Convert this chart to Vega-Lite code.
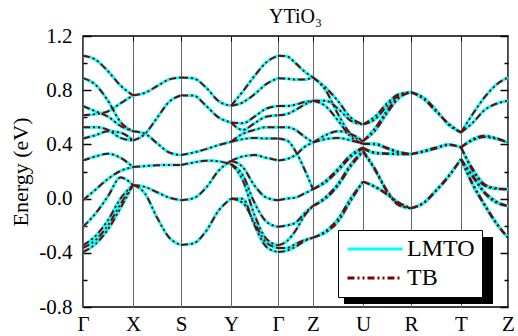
{
  "$schema": "https://vega.github.io/schema/vega-lite/v6.json",
  "width": 425,
  "height": 271,
  "autosize": {"type": "none"},
  "padding": {"left": 83, "top": 36, "right": 10, "bottom": 29},
  "title": {"text": "YTiO₃", "font": "Liberation Serif", "fontSize": 20, "fontWeight": "normal", "color": "black", "anchor": "middle", "offset": 10, "dy": 12},
  "config": {
    "font": "Liberation Serif",
    "view": {"stroke": "black", "strokeWidth": 1.5},
    "axis": {"labelFont": "Liberation Serif", "titleFont": "Liberation Serif", "labelColor": "black", "titleColor": "black", "labelOverlap": false, "labelFlush": false, "labelBound": false}
  },
  "data": {"values": [
    {"s":"g1","k":0,"e":1.055},{"s":"g1","k":12.5,"e":1.025},{"s":"g1","k":25,"e":0.94},{"s":"g1","k":37.5,"e":0.835},{"s":"g1","k":50,"e":0.762},
    {"s":"g2","k":0,"e":0.615},{"s":"g2","k":12.5,"e":0.624},{"s":"g2","k":25,"e":0.644},{"s":"g2","k":37.5,"e":0.703},{"s":"g2","k":50,"e":0.762},
    {"s":"g3","k":0,"e":0.889},{"s":"g3","k":12.5,"e":0.84},{"s":"g3","k":25,"e":0.722},{"s":"g3","k":37.5,"e":0.566},{"s":"g3","k":50,"e":0.497},
    {"s":"g4","k":0,"e":0.683},{"s":"g4","k":12.5,"e":0.644},{"s":"g4","k":25,"e":0.605},{"s":"g4","k":37.5,"e":0.536},{"s":"g4","k":50,"e":0.497},
    {"s":"g5","k":0,"e":0.527},{"s":"g5","k":12.5,"e":0.527},{"s":"g5","k":25,"e":0.507},{"s":"g5","k":37.5,"e":0.448},{"s":"g5","k":50,"e":0.429},
    {"s":"g6","k":0,"e":0.443},{"s":"g6","k":12.5,"e":0.468},{"s":"g6","k":25,"e":0.497},{"s":"g6","k":37.5,"e":0.487},{"s":"g6","k":50,"e":0.429},
    {"s":"g7","k":0,"e":0.282},{"s":"g7","k":12.5,"e":0.311},{"s":"g7","k":25,"e":0.331},{"s":"g7","k":37.5,"e":0.301},{"s":"g7","k":50,"e":0.233},
    {"s":"g8","k":0,"e":-0.012},{"s":"g8","k":12.5,"e":0.066},{"s":"g8","k":25,"e":0.145},{"s":"g8","k":37.5,"e":0.204},{"s":"g8","k":50,"e":0.233},
    {"s":"g9","k":0,"e":-0.208},{"s":"g9","k":12.5,"e":-0.11},{"s":"g9","k":25,"e":0.018},{"s":"g9","k":37.5,"e":0.155},{"s":"g9","k":50,"e":0.101},
    {"s":"g10","k":0,"e":-0.345},{"s":"g10","k":12.5,"e":-0.276},{"s":"g10","k":25,"e":-0.159},{"s":"g10","k":37.5,"e":0.0},{"s":"g10","k":50,"e":0.101},
    {"s":"g11","k":0,"e":-0.364},{"s":"g11","k":12.5,"e":-0.306},{"s":"g11","k":25,"e":-0.198},{"s":"g11","k":37.5,"e":-0.041},{"s":"g11","k":50,"e":0.101},
    {"s":"g12","k":0,"e":-0.394},{"s":"g12","k":12.5,"e":-0.335},{"s":"g12","k":25,"e":-0.227},{"s":"g12","k":37.5,"e":-0.07},{"s":"g12","k":50,"e":0.101},

    {"s":"a1","k":50,"e":0.762},{"s":"a1","k":62,"e":0.781},{"s":"a1","k":74,"e":0.83},{"s":"a1","k":86,"e":0.879},{"s":"a1","k":98,"e":0.894},
    {"s":"a2","k":50,"e":0.429},{"s":"a2","k":62,"e":0.478},{"s":"a2","k":74,"e":0.595},{"s":"a2","k":86,"e":0.713},{"s":"a2","k":98,"e":0.762},
    {"s":"a3","k":50,"e":0.497},{"s":"a3","k":62,"e":0.478},{"s":"a3","k":74,"e":0.409},{"s":"a3","k":86,"e":0.341},{"s":"a3","k":98,"e":0.321},
    {"s":"a4","k":50,"e":0.233},{"s":"a4","k":62,"e":0.24},{"s":"a4","k":74,"e":0.246},{"s":"a4","k":86,"e":0.248},{"s":"a4","k":98,"e":0.248},
    {"s":"a5","k":50,"e":0.101},{"s":"a5","k":62,"e":0.086},{"s":"a5","k":74,"e":0.047},{"s":"a5","k":86,"e":0.008},{"s":"a5","k":98,"e":-0.012},
    {"s":"a6","k":50,"e":0.101},{"s":"a6","k":62,"e":0.037},{"s":"a6","k":74,"e":-0.139},{"s":"a6","k":86,"e":-0.286},{"s":"a6","k":98,"e":-0.342},

    {"s":"b1","k":98,"e":0.894},{"s":"b1","k":110.5,"e":0.887},{"s":"b1","k":123,"e":0.82},{"s":"b1","k":135.5,"e":0.72},{"s":"b1","k":148,"e":0.685},
    {"s":"b2","k":98,"e":0.762},{"s":"b2","k":110.5,"e":0.76},{"s":"b2","k":123,"e":0.685},{"s":"b2","k":135.5,"e":0.6},{"s":"b2","k":148,"e":0.562},
    {"s":"b3","k":98,"e":0.321},{"s":"b3","k":110.5,"e":0.34},{"s":"b3","k":123,"e":0.365},{"s":"b3","k":135.5,"e":0.395},{"s":"b3","k":148,"e":0.419},
    {"s":"b4","k":98,"e":0.248},{"s":"b4","k":110.5,"e":0.266},{"s":"b4","k":123,"e":0.28},{"s":"b4","k":135.5,"e":0.275},{"s":"b4","k":148,"e":0.254},
    {"s":"b5","k":98,"e":-0.012},{"s":"b5","k":110.5,"e":0.003},{"s":"b5","k":123,"e":0.08},{"s":"b5","k":135.5,"e":0.205},{"s":"b5","k":148,"e":0.279},
    {"s":"b6","k":98,"e":-0.342},{"s":"b6","k":110.5,"e":-0.33},{"s":"b6","k":123,"e":-0.24},{"s":"b6","k":135.5,"e":-0.09},{"s":"b6","k":148,"e":0.0},

    {"s":"c1","k":148,"e":0.685},{"s":"c1","k":159.75,"e":0.79},{"s":"c1","k":171.5,"e":0.905},{"s":"c1","k":183.25,"e":1.005},{"s":"c1","k":195,"e":1.055},
    {"s":"c2","k":148,"e":0.685},{"s":"c2","k":159.75,"e":0.71},{"s":"c2","k":171.5,"e":0.77},{"s":"c2","k":183.25,"e":0.845},{"s":"c2","k":195,"e":0.889},
    {"s":"c3","k":148,"e":0.562},{"s":"c3","k":159.75,"e":0.556},{"s":"c3","k":171.5,"e":0.605},{"s":"c3","k":183.25,"e":0.664},{"s":"c3","k":195,"e":0.683},
    {"s":"c4","k":148,"e":0.562},{"s":"c4","k":159.75,"e":0.507},{"s":"c4","k":171.5,"e":0.556},{"s":"c4","k":183.25,"e":0.605},{"s":"c4","k":195,"e":0.615},
    {"s":"c5","k":148,"e":0.419},{"s":"c5","k":159.75,"e":0.478},{"s":"c5","k":171.5,"e":0.507},{"s":"c5","k":183.25,"e":0.527},{"s":"c5","k":195,"e":0.527},
    {"s":"c6","k":148,"e":0.419},{"s":"c6","k":159.75,"e":0.439},{"s":"c6","k":171.5,"e":0.448},{"s":"c6","k":183.25,"e":0.443},{"s":"c6","k":195,"e":0.443},
    {"s":"c7","k":148,"e":0.279},{"s":"c7","k":159.75,"e":0.311},{"s":"c7","k":171.5,"e":0.321},{"s":"c7","k":183.25,"e":0.301},{"s":"c7","k":195,"e":0.282},
    {"s":"c8","k":148,"e":0.279},{"s":"c8","k":159.75,"e":0.233},{"s":"c8","k":171.5,"e":0.096},{"s":"c8","k":183.25,"e":0.008},{"s":"c8","k":195,"e":-0.012},
    {"s":"c9","k":148,"e":0.254},{"s":"c9","k":159.75,"e":0.174},{"s":"c9","k":171.5,"e":-0.031},{"s":"c9","k":183.25,"e":-0.169},{"s":"c9","k":195,"e":-0.208},
    {"s":"c10","k":148,"e":0.254},{"s":"c10","k":159.75,"e":0.135},{"s":"c10","k":171.5,"e":-0.12},{"s":"c10","k":183.25,"e":-0.296},{"s":"c10","k":195,"e":-0.345},
    {"s":"c11","k":148,"e":0.0},{"s":"c11","k":159.75,"e":-0.031},{"s":"c11","k":171.5,"e":-0.178},{"s":"c11","k":183.25,"e":-0.325},{"s":"c11","k":195,"e":-0.364},
    {"s":"c12","k":148,"e":0.0},{"s":"c12","k":159.75,"e":-0.002},{"s":"c12","k":171.5,"e":-0.198},{"s":"c12","k":183.25,"e":-0.355},{"s":"c12","k":195,"e":-0.394},

    {"s":"d1","k":195,"e":1.055},{"s":"d1","k":203.75,"e":1.05},{"s":"d1","k":212.5,"e":1.0},{"s":"d1","k":221.25,"e":0.94},{"s":"d1","k":230,"e":0.894},
    {"s":"d2","k":195,"e":0.889},{"s":"d2","k":203.75,"e":0.885},{"s":"d2","k":212.5,"e":0.879},{"s":"d2","k":221.25,"e":0.879},{"s":"d2","k":230,"e":0.894},
    {"s":"d3","k":195,"e":0.683},{"s":"d3","k":203.75,"e":0.683},{"s":"d3","k":212.5,"e":0.693},{"s":"d3","k":221.25,"e":0.713},{"s":"d3","k":230,"e":0.722},
    {"s":"d4","k":195,"e":0.615},{"s":"d4","k":203.75,"e":0.624},{"s":"d4","k":212.5,"e":0.654},{"s":"d4","k":221.25,"e":0.693},{"s":"d4","k":230,"e":0.722},
    {"s":"d5","k":195,"e":0.527},{"s":"d5","k":203.75,"e":0.527},{"s":"d5","k":212.5,"e":0.507},{"s":"d5","k":221.25,"e":0.458},{"s":"d5","k":230,"e":0.414},
    {"s":"d6","k":195,"e":0.282},{"s":"d6","k":203.75,"e":0.292},{"s":"d6","k":212.5,"e":0.321},{"s":"d6","k":221.25,"e":0.38},{"s":"d6","k":230,"e":0.414},
    {"s":"d7","k":195,"e":0.443},{"s":"d7","k":203.75,"e":0.43},{"s":"d7","k":212.5,"e":0.35},{"s":"d7","k":221.25,"e":0.22},{"s":"d7","k":230,"e":0.069},
    {"s":"d8","k":195,"e":-0.012},{"s":"d8","k":203.75,"e":0.0},{"s":"d8","k":212.5,"e":0.008},{"s":"d8","k":221.25,"e":0.037},{"s":"d8","k":230,"e":0.069},
    {"s":"d9","k":195,"e":-0.208},{"s":"d9","k":203.75,"e":-0.198},{"s":"d9","k":212.5,"e":-0.178},{"s":"d9","k":221.25,"e":-0.11},{"s":"d9","k":230,"e":-0.054},
    {"s":"d10","k":195,"e":-0.345},{"s":"d10","k":203.75,"e":-0.315},{"s":"d10","k":212.5,"e":-0.237},{"s":"d10","k":221.25,"e":-0.129},{"s":"d10","k":230,"e":-0.054},
    {"s":"d11","k":195,"e":-0.364},{"s":"d11","k":203.75,"e":-0.364},{"s":"d11","k":212.5,"e":-0.335},{"s":"d11","k":221.25,"e":-0.306},{"s":"d11","k":230,"e":-0.288},
    {"s":"d12","k":195,"e":-0.394},{"s":"d12","k":203.75,"e":-0.384},{"s":"d12","k":212.5,"e":-0.355},{"s":"d12","k":221.25,"e":-0.315},{"s":"d12","k":230,"e":-0.288},

    {"s":"e1","k":230,"e":0.894},{"s":"e1","k":242.5,"e":0.82},{"s":"e1","k":255,"e":0.72},{"s":"e1","k":267.5,"e":0.6},{"s":"e1","k":280,"e":0.548},
    {"s":"e2","k":230,"e":0.894},{"s":"e2","k":242.5,"e":0.801},{"s":"e2","k":255,"e":0.624},{"s":"e2","k":267.5,"e":0.478},{"s":"e2","k":280,"e":0.425},
    {"s":"e3","k":230,"e":0.722},{"s":"e3","k":242.5,"e":0.722},{"s":"e3","k":255,"e":0.664},{"s":"e3","k":267.5,"e":0.576},{"s":"e3","k":280,"e":0.548},
    {"s":"e4","k":230,"e":0.722},{"s":"e4","k":242.5,"e":0.683},{"s":"e4","k":255,"e":0.576},{"s":"e4","k":267.5,"e":0.458},{"s":"e4","k":280,"e":0.405},
    {"s":"e5","k":230,"e":0.414},{"s":"e5","k":242.5,"e":0.468},{"s":"e5","k":255,"e":0.497},{"s":"e5","k":267.5,"e":0.478},{"s":"e5","k":280,"e":0.425},
    {"s":"e6","k":230,"e":0.414},{"s":"e6","k":242.5,"e":0.439},{"s":"e6","k":255,"e":0.448},{"s":"e6","k":267.5,"e":0.43},{"s":"e6","k":280,"e":0.405},
    {"s":"e7","k":230,"e":0.069},{"s":"e7","k":242.5,"e":0.13},{"s":"e7","k":255,"e":0.22},{"s":"e7","k":267.5,"e":0.32},{"s":"e7","k":280,"e":0.377},
    {"s":"e8","k":230,"e":0.069},{"s":"e8","k":242.5,"e":0.12},{"s":"e8","k":255,"e":0.205},{"s":"e8","k":267.5,"e":0.305},{"s":"e8","k":280,"e":0.37},
    {"s":"e9","k":230,"e":-0.054},{"s":"e9","k":242.5,"e":0.01},{"s":"e9","k":255,"e":0.11},{"s":"e9","k":267.5,"e":0.25},{"s":"e9","k":280,"e":0.355},
    {"s":"e10","k":230,"e":-0.054},{"s":"e10","k":242.5,"e":0.0},{"s":"e10","k":255,"e":0.095},{"s":"e10","k":267.5,"e":0.235},{"s":"e10","k":280,"e":0.345},
    {"s":"e11","k":230,"e":-0.288},{"s":"e11","k":242.5,"e":-0.25},{"s":"e11","k":255,"e":-0.17},{"s":"e11","k":267.5,"e":-0.02},{"s":"e11","k":280,"e":0.125},
    {"s":"e12","k":230,"e":-0.288},{"s":"e12","k":242.5,"e":-0.24},{"s":"e12","k":255,"e":-0.15},{"s":"e12","k":267.5,"e":0.0},{"s":"e12","k":280,"e":0.125},

    {"s":"f1","k":280,"e":0.548},{"s":"f1","k":292,"e":0.605},{"s":"f1","k":304,"e":0.703},{"s":"f1","k":316,"e":0.771},{"s":"f1","k":328,"e":0.785},
    {"s":"f2","k":280,"e":0.548},{"s":"f2","k":292,"e":0.585},{"s":"f2","k":304,"e":0.683},{"s":"f2","k":316,"e":0.762},{"s":"f2","k":328,"e":0.785},
    {"s":"f3","k":280,"e":0.425},{"s":"f3","k":292,"e":0.52},{"s":"f3","k":304,"e":0.65},{"s":"f3","k":316,"e":0.75},{"s":"f3","k":328,"e":0.785},
    {"s":"f4","k":280,"e":0.425},{"s":"f4","k":292,"e":0.5},{"s":"f4","k":304,"e":0.63},{"s":"f4","k":316,"e":0.742},{"s":"f4","k":328,"e":0.785},
    {"s":"f5","k":280,"e":0.405},{"s":"f5","k":292,"e":0.405},{"s":"f5","k":304,"e":0.375},{"s":"f5","k":316,"e":0.345},{"s":"f5","k":328,"e":0.328},
    {"s":"f6","k":280,"e":0.405},{"s":"f6","k":292,"e":0.4},{"s":"f6","k":304,"e":0.37},{"s":"f6","k":316,"e":0.34},{"s":"f6","k":328,"e":0.328},
    {"s":"f7","k":280,"e":0.377},{"s":"f7","k":292,"e":0.34},{"s":"f7","k":304,"e":0.333},{"s":"f7","k":316,"e":0.33},{"s":"f7","k":328,"e":0.328},
    {"s":"f8","k":280,"e":0.37},{"s":"f8","k":292,"e":0.335},{"s":"f8","k":304,"e":0.33},{"s":"f8","k":316,"e":0.328},{"s":"f8","k":328,"e":0.328},
    {"s":"f9","k":280,"e":0.355},{"s":"f9","k":292,"e":0.22},{"s":"f9","k":304,"e":0.06},{"s":"f9","k":316,"e":-0.045},{"s":"f9","k":328,"e":-0.071},
    {"s":"f10","k":280,"e":0.345},{"s":"f10","k":292,"e":0.21},{"s":"f10","k":304,"e":0.05},{"s":"f10","k":316,"e":-0.05},{"s":"f10","k":328,"e":-0.071},
    {"s":"f11","k":280,"e":0.125},{"s":"f11","k":292,"e":0.09},{"s":"f11","k":304,"e":0.035},{"s":"f11","k":316,"e":-0.03},{"s":"f11","k":328,"e":-0.071},
    {"s":"f12","k":280,"e":0.125},{"s":"f12","k":292,"e":0.085},{"s":"f12","k":304,"e":0.03},{"s":"f12","k":316,"e":-0.035},{"s":"f12","k":328,"e":-0.071},

    {"s":"h1","k":328,"e":0.785},{"s":"h1","k":340.5,"e":0.735},{"s":"h1","k":353,"e":0.643},{"s":"h1","k":365.5,"e":0.555},{"s":"h1","k":378,"e":0.488},
    {"s":"h2","k":328,"e":0.785},{"s":"h2","k":340.5,"e":0.745},{"s":"h2","k":353,"e":0.655},{"s":"h2","k":365.5,"e":0.545},{"s":"h2","k":378,"e":0.488},
    {"s":"h3","k":328,"e":0.328},{"s":"h3","k":340.5,"e":0.352},{"s":"h3","k":353,"e":0.377},{"s":"h3","k":365.5,"e":0.4},{"s":"h3","k":378,"e":0.377},
    {"s":"h4","k":328,"e":0.328},{"s":"h4","k":340.5,"e":0.345},{"s":"h4","k":353,"e":0.37},{"s":"h4","k":365.5,"e":0.395},{"s":"h4","k":378,"e":0.38},
    {"s":"h5","k":328,"e":-0.071},{"s":"h5","k":340.5,"e":-0.03},{"s":"h5","k":353,"e":0.062},{"s":"h5","k":365.5,"e":0.168},{"s":"h5","k":378,"e":0.291},
    {"s":"h6","k":328,"e":-0.071},{"s":"h6","k":340.5,"e":-0.035},{"s":"h6","k":353,"e":0.055},{"s":"h6","k":365.5,"e":0.16},{"s":"h6","k":378,"e":0.291},

    {"s":"i1","k":378,"e":0.488},{"s":"i1","k":389.75,"e":0.624},{"s":"i1","k":401.5,"e":0.747},{"s":"i1","k":413.25,"e":0.84},{"s":"i1","k":425,"e":0.894},
    {"s":"i2","k":378,"e":0.488},{"s":"i2","k":389.75,"e":0.56},{"s":"i2","k":401.5,"e":0.653},{"s":"i2","k":413.25,"e":0.7},{"s":"i2","k":425,"e":0.722},
    {"s":"i3","k":378,"e":0.377},{"s":"i3","k":389.75,"e":0.439},{"s":"i3","k":401.5,"e":0.463},{"s":"i3","k":413.25,"e":0.446},{"s":"i3","k":425,"e":0.414},
    {"s":"i4","k":378,"e":0.38},{"s":"i4","k":389.75,"e":0.43},{"s":"i4","k":401.5,"e":0.455},{"s":"i4","k":413.25,"e":0.44},{"s":"i4","k":425,"e":0.414},
    {"s":"i5","k":378,"e":0.377},{"s":"i5","k":389.75,"e":0.22},{"s":"i5","k":401.5,"e":0.106},{"s":"i5","k":413.25,"e":0.077},{"s":"i5","k":425,"e":0.069},
    {"s":"i6","k":378,"e":0.377},{"s":"i6","k":389.75,"e":0.205},{"s":"i6","k":401.5,"e":0.095},{"s":"i6","k":413.25,"e":0.072},{"s":"i6","k":425,"e":0.069},
    {"s":"i7","k":378,"e":0.291},{"s":"i7","k":389.75,"e":0.17},{"s":"i7","k":401.5,"e":0.05},{"s":"i7","k":413.25,"e":-0.02},{"s":"i7","k":425,"e":-0.054},
    {"s":"i8","k":378,"e":0.291},{"s":"i8","k":389.75,"e":0.16},{"s":"i8","k":401.5,"e":0.04},{"s":"i8","k":413.25,"e":-0.03},{"s":"i8","k":425,"e":-0.054},
    {"s":"i9","k":378,"e":0.291},{"s":"i9","k":389.75,"e":0.11},{"s":"i9","k":401.5,"e":-0.04},{"s":"i9","k":413.25,"e":-0.177},{"s":"i9","k":425,"e":-0.288},
    {"s":"i10","k":378,"e":0.291},{"s":"i10","k":389.75,"e":0.1},{"s":"i10","k":401.5,"e":-0.05},{"s":"i10","k":413.25,"e":-0.185},{"s":"i10","k":425,"e":-0.288}
  ]},
  "layer": [
    {
      "mark": {"type": "rect", "color": "black"},
      "encoding": {
        "x": {"datum": 261.4, "type": "quantitative", "axis": null},
        "x2": {"datum": 409.7},
        "y": {"datum": -0.283, "type": "quantitative", "axis": null},
        "y2": {"datum": -0.776}
      }
    },
    {
      "mark": {"type": "line", "interpolate": "monotone", "strokeWidth": 3},
      "encoding": {
        "x": {"field": "k", "type": "quantitative", "scale": {"domain": [0, 425], "nice": false, "zero": false},
          "axis": {"orient": "bottom", "values": [0, 50, 98, 148, 195, 230, 280, 328, 378, 425],
            "labelExpr": "datum.value==0?'Γ':datum.value==50?'X':datum.value==98?'S':datum.value==148?'Y':datum.value==195?'Γ':datum.value==230?'Z':datum.value==280?'U':datum.value==328?'R':datum.value==378?'T':'Z'",
            "grid": true, "gridColor": "#666666", "gridWidth": 1, "domain": false, "ticks": false,
            "labelFont": "Liberation Serif", "labelFontSize": 21, "labelColor": "black", "labelPadding": 6, "title": null}},
        "y": {"field": "e", "type": "quantitative", "scale": {"domain": [-0.8, 1.2], "nice": false, "zero": false},
          "axis": {"orient": "left", "values": [-0.8, -0.6, -0.4, -0.2, 0, 0.2, 0.4, 0.6, 0.8, 1.0, 1.2],
            "labelExpr": "round(datum.value*10)%4==0 ? replace(format(datum.value,'.1f'),'\u2212','-') : ''",
            "tickSize": -8, "tickColor": "black", "tickWidth": 1.5,
            "tickDash": {"condition": {"test": "round(datum.value*10)%4!=0", "value": [4, 20]}, "value": [8, 0]},
            "domain": false, "grid": false, "labelFont": "Liberation Serif", "labelFontSize": 21, "labelColor": "black", "labelPadding": 19,
            "title": "Energy (eV)", "titleFont": "Liberation Serif", "titleFontSize": 22, "titleFontWeight": "normal", "titleColor": "black", "titlePadding": 6}},
        "detail": {"field": "s"},
        "color": {"datum": "LMTO", "scale": {"domain": ["LMTO", "TB"], "range": ["#00FFFF", "#800000"]},
          "legend": {"title": null, "orient": "none", "legendX": 255, "legendY": 194, "fillColor": "white", "strokeColor": "black", "padding": 7,
            "symbolType": "M-5,0H5", "symbolSize": 121, "symbolStrokeWidth": 3, "symbolOffset": 18, "labelOffset": 20,
            "labelFont": "Liberation Serif", "labelFontSize": 24, "labelColor": "black", "rowPadding": 5}},
        "strokeDash": {"datum": "LMTO", "scale": {"domain": ["LMTO", "TB"], "range": [[1, 0], [7, 3, 2, 3, 2, 3]]},
          "legend": {"title": null, "orient": "none", "legendX": 255, "legendY": 194, "fillColor": "white", "strokeColor": "black", "padding": 7,
            "symbolType": "M-5,0H5", "symbolSize": 121, "symbolStrokeWidth": 3, "symbolOffset": 18, "labelOffset": 20,
            "labelFont": "Liberation Serif", "labelFontSize": 24, "labelColor": "black", "rowPadding": 5}}
      }
    },
    {
      "mark": {"type": "line", "interpolate": "monotone", "strokeWidth": 2},
      "encoding": {
        "x": {"field": "k", "type": "quantitative",
          "axis": {"orient": "top", "values": [50, 98, 148, 195, 230, 280, 328, 378], "labels": false,
            "tickSize": -5, "tickColor": "black", "domain": false, "grid": false, "title": null}},
        "y": {"field": "e", "type": "quantitative",
          "axis": {"orient": "right", "values": [-0.8, -0.6, -0.4, -0.2, 0, 0.2, 0.4, 0.6, 0.8, 1.0, 1.2], "labels": false,
            "tickSize": -8, "tickColor": "black", "tickWidth": 1.5,
            "tickDash": {"condition": {"test": "round(datum.value*10)%4!=0", "value": [4, 20]}, "value": [8, 0]},
            "domain": false, "grid": false, "title": null}},
        "detail": {"field": "s"},
        "color": {"datum": "TB"},
        "strokeDash": {"datum": "TB"}
      }
    }
  ],
  "resolve": {"axis": {"x": "independent", "y": "independent"}}
}
